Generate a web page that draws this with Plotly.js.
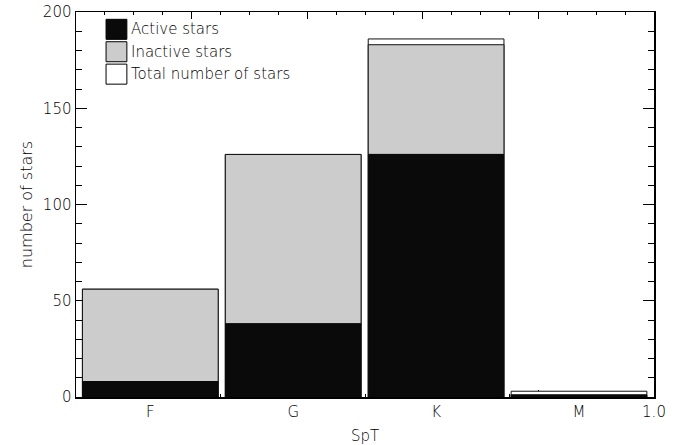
<!DOCTYPE html>
<html><head><meta charset="utf-8">
<script src="https://cdn.plot.ly/plotly-3.0.1.min.js"></script>
<style>html,body{margin:0;padding:0;background:#fff;}</style>
</head><body>
<div id="chart" style="width:679px;height:445px;"></div>
<script>
const spectralTypes = ['F', 'G', 'K', 'M'];
const activeStars = [8, 38, 126, 1];
const inactiveStars = [48, 88, 57, 0];
const totalStars = [56, 126, 186, 3];
const legendLabels = ['Active stars', 'Inactive stars', 'Total number of stars'];
const legendColors = ['#0a0a0a', '#cccccc', '#ffffff'];

const idx = spectralTypes.map((_, i) => i);
const fam = 'DejaVu Sans, sans-serif';
const font = {family: fam, size: 15, color: '#000', weight: 200};
const legendFont = {family: fam, size: 15, color: '#000', weight: 200};

const lineStyle = {color: '#111', width: 1};
const traces = [
  {type: 'bar', x: idx, y: totalStars, width: 0.95, marker: {color: legendColors[2], line: lineStyle}, hoverinfo: 'skip'},
  {type: 'bar', x: idx, y: inactiveStars, base: activeStars, width: 0.95, marker: {color: legendColors[1], line: lineStyle}, hoverinfo: 'skip'},
  {type: 'bar', x: idx, y: activeStars, width: 0.95, marker: {color: legendColors[0], line: {color: '#0a0a0a', width: 1}}, hoverinfo: 'skip'}
];

const shapes = [];
const annotations = [];
legendLabels.forEach((lab, i) => {
  const top = 0.981 - i * 0.0582;
  shapes.push({type: 'rect', xref: 'paper', yref: 'paper', x0: 0.052, x1: 0.088, y0: top - 0.052, y1: top,
    fillcolor: legendColors[i], line: {color: '#000', width: 1}});
  annotations.push({xref: 'paper', yref: 'paper', x: 0.091, y: top - 0.026, xanchor: 'left', yanchor: 'middle',
    text: lab, showarrow: false, font: legendFont});
});

const layout = {
  width: 679, height: 445,
  margin: {l: 76, r: 25, t: 12, b: 48},
  paper_bgcolor: '#fff', plot_bgcolor: '#fff',
  barmode: 'overlay', bargap: 0,
  showlegend: false,
  font: font,
  xaxis: {
    range: [-0.52, 3.525], tickvals: [0, 1, 2, 3, 3.525], ticktext: spectralTypes.concat(['1.0']),
    ticks: 'inside', ticklen: 4, tickcolor: '#000', showline: true, linecolor: '#000', linewidth: 1.5,
    showgrid: false, zeroline: false, layer: 'below traces',
    title: {text: 'SpT', font: font, standoff: 12}, tickfont: font
  },
  xaxis2: {
    overlaying: 'x', side: 'top', range: [0, 1], dtick: 0.2, tick0: 0, ticks: 'inside', ticklen: 7,
    tickcolor: '#000', showticklabels: false, showline: true, linecolor: '#000', linewidth: 1, mirror: 'ticks',
    minor: {dtick: 0.05, ticklen: 3, ticks: 'inside', tickcolor: '#000'},
    showgrid: false, zeroline: false, layer: 'below traces'
  },
  yaxis: {
    range: [0, 200], dtick: 50, tick0: 0, ticks: 'inside', ticklen: 11, tickcolor: '#000',
    minor: {dtick: 10, ticklen: 6, ticks: 'inside', tickcolor: '#000'},
    showline: true, linecolor: '#000', linewidth: 1.5, mirror: 'ticks',
    showgrid: false, zeroline: false, layer: 'below traces',
    title: {text: 'number of stars', font: {family: fam, size: 16, color: '#000', weight: 200}, standoff: 6}, tickfont: font
  },
  shapes: shapes,
  annotations: annotations
};

// invisible trace to activate top axis
traces.push({type: 'scatter', x: [0], y: [0], xaxis: 'x2', mode: 'markers', marker: {opacity: 0}, hoverinfo: 'skip'});

Plotly.newPlot('chart', traces, layout, {staticPlot: true});
</script>
</body></html>
